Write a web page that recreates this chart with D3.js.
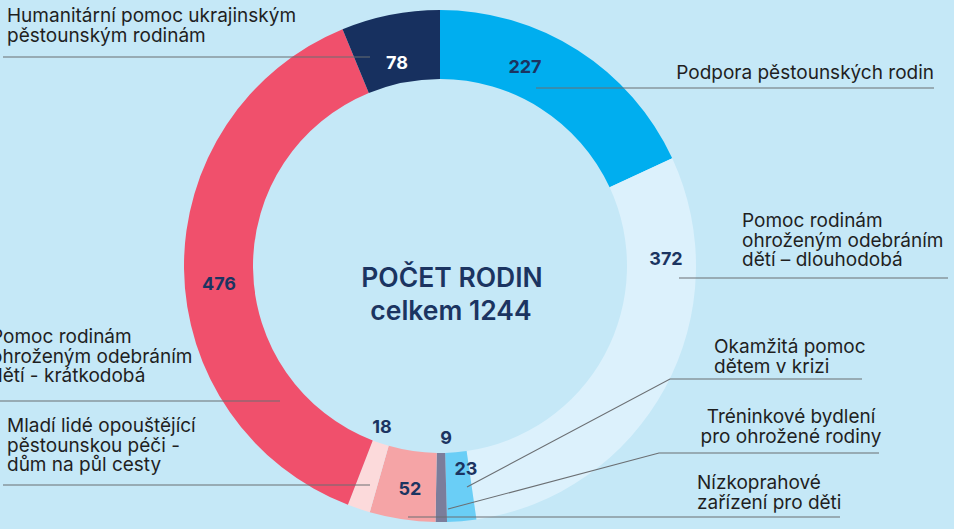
<!DOCTYPE html>
<html>
<head>
<meta charset="utf-8">
<script src="https://cdn.jsdelivr.net/npm/d3@7"></script>
<style>
html,body{margin:0;padding:0;background:#c5e8f7;overflow:hidden;}
svg{display:block;}
</style>
</head>
<body>
<svg id="chart" width="954" height="529"></svg>
<script>
// ---- data ----
const categories = [
  ["Podpora pěstounských rodin"],
  ["Pomoc rodinám", "ohroženým odebráním", "dětí – dlouhodobá"],
  ["Okamžitá pomoc", "dětem v krizi"],
  ["Tréninkové bydlení", "pro ohrožené rodiny"],
  ["Nízkoprahové", "zařízení pro děti"],
  ["Mladí lidé opouštějící", "pěstounskou péči -", "dům na půl cesty"],
  ["Pomoc rodinám", "ohroženým odebráním", "dětí - krátkodobá"],
  ["Humanitární pomoc ukrajinským", "pěstounským rodinám"]
];
const values = [227, 372, 23, 9, 52, 18, 476, 78];
const titleLines = ["POČET RODIN", "celkem 1244"];

// ---- style / layout ----
const colors = ["#00aeef", "#dcf1fc", "#6acef6", "#7b7d9b", "#f5a4a6", "#fcdadb", "#f0506c", "#17305f"];
const valueColors = ["#1b3461","#1b3461","#1b3461","#1b3461","#1b3461","#1b3461","#1b3461","#ffffff"];
// value label baseline offsets from the centre
const valueOffsets = [[85,-193],[226,-1],[26,209],[6,178],[-30,229],[-58,167],[-221,24],[-43,-197]];
// category label: anchor, x, first baseline
const catText = [
  {anchor:"end", x:934, y:79},
  {anchor:"start", x:742, y:227},
  {anchor:"start", x:714, y:353},
  {anchor:"middle", x:791, y:423},
  {anchor:"start", x:697, y:489},
  {anchor:"start", x:7, y:432},
  {anchor:"start", x:-9, y:343},
  {anchor:"start", x:7, y:22}
];
const leaders = [
  [[536,88],[934,88]],
  [[679,278],[948,278]],
  [[467,487],[670,379],[862,379]],
  [[448,509],[659,453],[879,453]],
  [[408,517],[840,517]],
  [[3,485],[370,485]],
  [[0,401],[280,401]],
  [[3,57],[370,57]]
];

const W = 954, H = 529;
const cx = 440, cy = 266;
const rOuter = 256, rInner = 187;
const font = "Inter, 'Open Sans', sans-serif";

const svg = d3.select("#chart");
svg.append("rect").attr("width", W).attr("height", H).attr("fill", "#c5e8f7");

const pie = d3.pie().sort(null).value(d => d)(values);
const arc = d3.arc().innerRadius(rInner).outerRadius(rOuter);

const g = svg.append("g").attr("transform", `translate(${cx},${cy})`);
g.selectAll("path.slice").data(pie).join("path")
  .attr("class", "slice")
  .attr("d", arc)
  .attr("fill", (d, i) => colors[i]);

// leader lines
const line = d3.line();
svg.selectAll("path.leader").data(leaders).join("path")
  .attr("class", "leader")
  .attr("d", d => line(d))
  .attr("fill", "none")
  .attr("stroke", "#6b6f73")
  .attr("stroke-width", 1.1);

// value labels
g.selectAll("text.val").data(pie).join("text")
  .attr("class", "val")
  .attr("x", (d, i) => valueOffsets[i][0])
  .attr("y", (d, i) => valueOffsets[i][1])
  .attr("text-anchor", "middle")
  .attr("font-family", font)
  .attr("font-weight", 700)
  .attr("font-size", 18)
  .attr("fill", (d, i) => valueColors[i])
  .text(d => d.data);

// category labels
categories.forEach((lines, i) => {
  const t = svg.append("text")
    .attr("text-anchor", catText[i].anchor)
    .attr("font-family", font)
    .attr("font-size", 19)
    .attr("fill", "#1f1f1f");
  lines.forEach((s, j) => {
    t.append("tspan").attr("x", catText[i].x).attr("y", catText[i].y + j * 19.6).text(s);
  });
});

// centre title
svg.append("text")
  .attr("x", 452).attr("y", 287)
  .attr("text-anchor", "middle")
  .attr("font-family", font).attr("font-weight", 600).attr("font-size", 26.5)
  .attr("fill", "#1b3461").text(titleLines[0]);
svg.append("text")
  .attr("x", 451).attr("y", 320)
  .attr("text-anchor", "middle")
  .attr("font-family", font).attr("font-weight", 600).attr("font-size", 26.5)
  .attr("fill", "#1b3461").text(titleLines[1]);
</script>
</body>
</html>
